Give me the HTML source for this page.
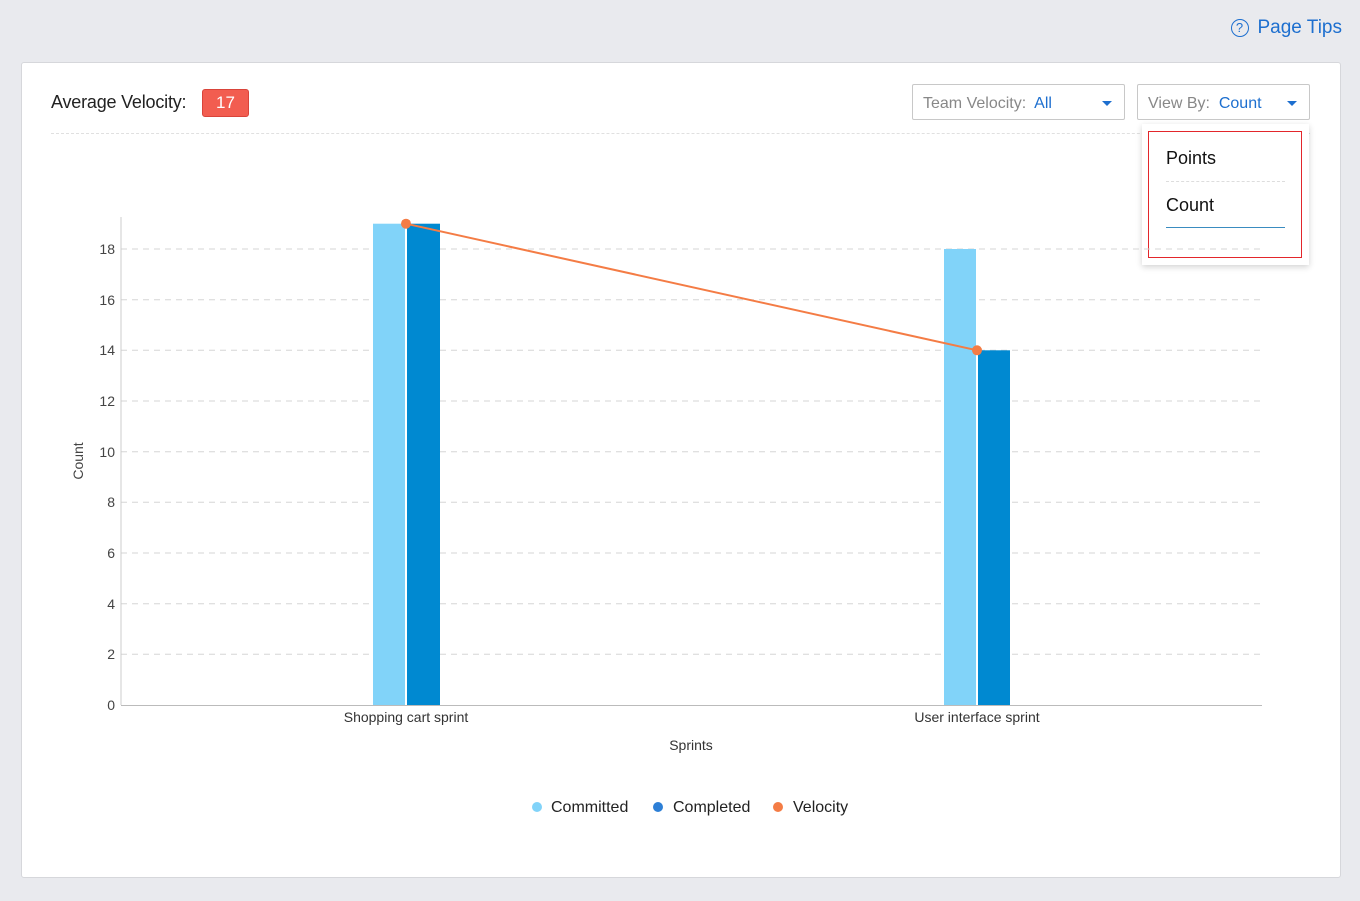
<!DOCTYPE html>
<html><head><style>
body{margin:0;width:1360px;height:901px;background:#e9eaee;font-family:"Liberation Sans",sans-serif;position:relative;overflow:hidden}
.card{position:absolute;left:21px;top:62px;width:1318px;height:814px;background:#fff;border:1px solid #d6d7db;border-radius:3px}
.abs{position:absolute}
</style></head><body>
<div class="abs" style="right:18px;top:17px;color:#1d6fcf;font-size:19px;display:flex;align-items:center">
<span style="display:inline-block;width:16px;height:16px;border:1.5px solid #1d6fcf;border-radius:50%;font-size:13px;text-align:center;line-height:16px;margin-right:9px">?</span>Page Tips</div>
<div class="card"></div>
<div class="abs" style="left:51px;top:92px;font-size:18px;color:#222;letter-spacing:-0.2px">Average Velocity:</div>
<div class="abs" style="left:202px;top:89px;width:45px;height:26px;background:#f25d50;border:1px solid #d9443a;border-radius:3px;color:#fff;font-size:17px;text-align:center;line-height:26px">17</div>
<div class="abs" style="left:51px;top:133px;width:1259px;border-top:1px dashed #e0e0e0"></div>
<div class="abs" style="left:912px;top:84px;width:213px;height:36px;border:1px solid #c8c8c8;border-radius:2px;font-size:16px;line-height:37px;padding-left:10px;box-sizing:border-box;color:#888">Team Velocity:&nbsp; <span style="color:#1d6fcf">All</span><span style="position:absolute;right:12px;top:16px;border:5px solid transparent;border-top:5px solid #1d6fcf;border-bottom:0"></span></div>
<div class="abs" style="left:1137px;top:84px;width:173px;height:36px;border:1px solid #c8c8c8;border-radius:2px;font-size:16px;line-height:37px;padding-left:10px;box-sizing:border-box;color:#888">View By:&nbsp; <span style="color:#1d6fcf">Count</span><span style="position:absolute;right:12px;top:16px;border:5px solid transparent;border-top:5px solid #1d6fcf;border-bottom:0"></span></div>
<div class="abs" style="left:1142px;top:124px;width:167px;height:141px;background:#fff;box-shadow:0 2px 6px rgba(0,0,0,.18)"></div>
<div class="abs" style="left:1148px;top:131px;width:152px;height:125px;border:1.5px solid #e3262b"></div>
<div class="abs" style="left:1166px;top:148px;font-size:18px;color:#111">Points</div>
<div class="abs" style="left:1166px;top:181px;width:119px;border-top:1px dashed #ddd"></div>
<div class="abs" style="left:1166px;top:195px;font-size:18px;color:#111">Count</div>
<div class="abs" style="left:1166px;top:227px;width:119px;border-top:1px solid #3a8cc0"></div>
<svg class="abs" style="left:0;top:0" width="1360" height="901" font-family="Liberation Sans,sans-serif">
<g stroke="#d6d6d6" stroke-dasharray="6,5">
<line x1="121" x2="1262" y1="249" y2="249"/><line x1="121" x2="1262" y1="299.7" y2="299.7"/><line x1="121" x2="1262" y1="350.3" y2="350.3"/><line x1="121" x2="1262" y1="401" y2="401"/><line x1="121" x2="1262" y1="451.7" y2="451.7"/><line x1="121" x2="1262" y1="502.3" y2="502.3"/><line x1="121" x2="1262" y1="553" y2="553"/><line x1="121" x2="1262" y1="603.7" y2="603.7"/><line x1="121" x2="1262" y1="654.3" y2="654.3"/>
</g>
<line x1="121" x2="121" y1="217" y2="705" stroke="#ccc"/>
<line x1="121" x2="1262" y1="705.5" y2="705.5" stroke="#bbb"/>
<g font-size="14" fill="#444" text-anchor="end">
<text x="115" y="254">18</text><text x="115" y="305">16</text><text x="115" y="355">14</text><text x="115" y="406">12</text><text x="115" y="457">10</text><text x="115" y="507">8</text><text x="115" y="558">6</text><text x="115" y="609">4</text><text x="115" y="659">2</text><text x="115" y="710">0</text>
</g>
<text transform="translate(83,461) rotate(-90)" font-size="14" fill="#444" text-anchor="middle">Count</text>
<rect x="373" y="223.7" width="32" height="481.3" fill="#81d3f9"/>
<rect x="407" y="223.7" width="33" height="481.3" fill="#0089d1"/>
<rect x="944" y="249" width="32" height="456" fill="#81d3f9"/>
<rect x="978" y="350.3" width="32" height="354.7" fill="#0089d1"/>
<line x1="406" y1="223.7" x2="977" y2="350.3" stroke="#f47c45" stroke-width="2"/>
<circle cx="406" cy="223.7" r="5" fill="#f47c45"/><circle cx="977" cy="350.3" r="5" fill="#f47c45"/>
<g font-size="14" fill="#333" text-anchor="middle">
<text x="406" y="722">Shopping cart sprint</text><text x="977" y="722">User interface sprint</text>
<text x="691" y="750">Sprints</text></g>
<g font-size="16" fill="#222">
<circle cx="537" cy="807" r="5" fill="#81d3f9"/><text x="551" y="812">Committed</text>
<circle cx="658" cy="807" r="5" fill="#2d7fd6"/><text x="673" y="812">Completed</text>
<circle cx="778" cy="807" r="5" fill="#f47c45"/><text x="793" y="812">Velocity</text>
</g>
</svg>
</body></html>
